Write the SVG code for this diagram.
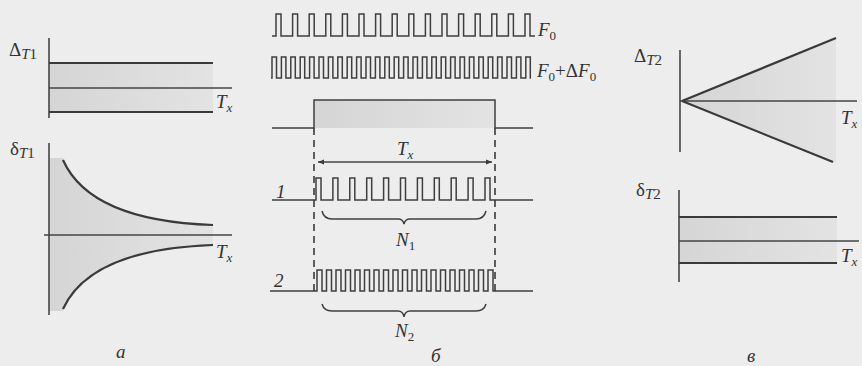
<svg xmlns="http://www.w3.org/2000/svg" width="862" height="366" viewBox="0 0 862 366">
<defs>
<linearGradient id="shadeH" x1="0" y1="0" x2="1" y2="0">
<stop offset="0" stop-color="#d5d5d5"/>
<stop offset="1" stop-color="#e3e3e3"/>
</linearGradient>
<marker id="ah" viewBox="0 0 10 10" refX="10" refY="5" markerWidth="9" markerHeight="6" markerUnits="userSpaceOnUse" orient="auto-start-reverse">
<path d="M0,1 L10,5 L0,9 Z" fill="#3a3a3a"/>
</marker>
<style>
.ln{fill:none;stroke:#3a3a3a;stroke-width:2.2;stroke-linecap:butt}
.ax{fill:none;stroke:#444;stroke-width:1.6}
.th{fill:none;stroke:#444;stroke-width:1.3}
.pl{fill:none;stroke:#3f3f3f;stroke-width:1.5;stroke-linejoin:miter}
.dash{fill:none;stroke:#3a3a3a;stroke-width:1.6;stroke-dasharray:7 5}
.sh{fill:url(#shadeH);stroke:none}
text{font-family:"Liberation Serif","Times New Roman",serif;fill:#333}
.it{font-style:italic;font-size:19px}
.gr{font-size:19px}
.sub{font-size:13px}
.gsub{font-size:15px}
</style>
</defs>
<rect x="0" y="0" width="862" height="366" fill="#ededed"/>

<g id="panel-a-top">
<rect class="sh" x="49" y="63" width="164" height="49"/>
<line class="ax" x1="49" y1="38" x2="49" y2="118"/>
<line class="ln" x1="49" y1="63" x2="213" y2="63"/>
<line class="th" x1="49" y1="88" x2="232" y2="88"/>
<line class="ln" x1="49" y1="112" x2="213" y2="112"/>
<text x="9" y="56" class="gr">Δ<tspan class="gsub" font-style="italic" dy="3">T</tspan><tspan class="gsub">1</tspan></text>
<text x="216" y="108" class="it">T<tspan class="sub" dy="4">x</tspan></text>
</g>

<g id="panel-a-bottom">
<path class="sh" d="M49,158 L63,158 C80,198 125,222 213,225 L213,235 L49,235 Z"/>
<path class="sh" d="M49,311 L63,311 C80,272 125,248 213,245 L213,235 L49,235 Z"/>
<line class="ax" x1="49" y1="143" x2="49" y2="315"/>
<line class="th" x1="44" y1="235" x2="232" y2="235"/>
<path class="ln" d="M63,160 C80,198 125,222 213,225"/>
<path class="ln" d="M63,309 C80,272 125,248 213,245"/>
<text x="10" y="155" class="gr">δ<tspan class="gsub" font-style="italic" dy="3">T</tspan><tspan class="gsub">1</tspan></text>
<text x="216" y="258" class="it">T<tspan class="sub" dy="4">x</tspan></text>
<text x="116" y="358" class="it">а</text>
</g>

<g id="signal-F0">
<path class="pl" d="M272,36 H276 v-22h5v22h11.6 v-22h5v22h11.6 v-22h5v22h11.6 v-22h5v22h11.6 v-22h5v22h11.6 v-22h5v22h11.6 v-22h5v22h11.6 v-22h5v22h11.6 v-22h5v22h11.6 v-22h5v22h11.6 v-22h5v22h11.6 v-22h5v22h11.6 v-22h5v22h11.6 v-22h5v22h11.6 v-22h5v22h11.6 v-22h5v22 H535"/>
<text x="538" y="36" class="it">F<tspan class="sub" font-style="normal" dy="4">0</tspan></text>
</g>

<g id="signal-F0dF0">
<path class="pl" d="M271,78 H272 v-21h4.5v21h4.9 v-21h4.5v21h4.9 v-21h4.5v21h4.9 v-21h4.5v21h4.9 v-21h4.5v21h4.9 v-21h4.5v21h4.9 v-21h4.5v21h4.9 v-21h4.5v21h4.9 v-21h4.5v21h4.9 v-21h4.5v21h4.9 v-21h4.5v21h4.9 v-21h4.5v21h4.9 v-21h4.5v21h4.9 v-21h4.5v21h4.9 v-21h4.5v21h4.9 v-21h4.5v21h4.9 v-21h4.5v21h4.9 v-21h4.5v21h4.9 v-21h4.5v21h4.9 v-21h4.5v21h4.9 v-21h4.5v21h4.9 v-21h4.5v21h4.9 v-21h4.5v21h4.9 v-21h4.5v21h4.9 v-21h4.5v21h4.9 v-21h4.5v21h4.9 v-21h4.5v21h4.9 v-21h4.5v21 H531"/>
<text x="537" y="77" class="it">F<tspan class="sub" font-style="normal" dy="4">0</tspan><tspan font-style="normal" dy="-4">+Δ</tspan>F<tspan class="sub" font-style="normal" dy="4">0</tspan></text>
</g>

<g id="signal-gate">
<rect class="sh" x="314" y="100" width="181" height="28"/>
<path class="pl" d="M272,128 H314 V100 H495 V128 H533"/>
</g>

<g id="signal-1">
<path class="pl" d="M272,200 H316 v-22h5v22h11.9 v-22h5v22h11.9 v-22h5v22h11.9 v-22h5v22h11.9 v-22h5v22h11.9 v-22h5v22h11.9 v-22h5v22h11.9 v-22h5v22h11.9 v-22h5v22h11.9 v-22h5v22h11.9 v-22h5v22 H533"/>
<text x="276" y="198" class="it">1</text>
<path class="pl" d="M322,211 Q324,219 332,219 H398 Q403,219 404,224 Q405,219 410,219 H476 Q484,219 486,211"/>
<text x="396" y="246" class="it">N<tspan class="sub" font-style="normal" dy="4">1</tspan></text>
</g>

<g id="signal-2">
<path class="pl" d="M270,291 H317 v-21h5v21h4.5 v-21h5v21h4.5 v-21h5v21h4.5 v-21h5v21h4.5 v-21h5v21h4.5 v-21h5v21h4.5 v-21h5v21h4.5 v-21h5v21h4.5 v-21h5v21h4.5 v-21h5v21h4.5 v-21h5v21h4.5 v-21h5v21h4.5 v-21h5v21h4.5 v-21h5v21h4.5 v-21h5v21h4.5 v-21h5v21h4.5 v-21h5v21h4.5 v-21h5v21h4.5 v-21h5v21 H533"/>
<text x="274" y="287" class="it">2</text>
<path class="pl" d="M322,304 Q324,311 332,311 H398 Q403,311 404,317 Q405,311 410,311 H476 Q484,311 486,304"/>
<text x="395" y="337" class="it">N<tspan class="sub" font-style="normal" dy="4">2</tspan></text>
<text x="431" y="362" class="it">б</text>
</g>

<g id="connectors">
<line class="dash" x1="314" y1="128" x2="314" y2="293"/>
<line class="dash" x1="495" y1="128" x2="495" y2="293"/>
<line class="th" x1="318" y1="162" x2="492" y2="162" marker-start="url(#ah)" marker-end="url(#ah)"/>
<text x="397" y="155" class="it">T<tspan class="sub" dy="4">x</tspan></text>
</g>

<g id="panel-v-top">
<polygon class="sh" points="682,101 836,38 836,163"/>
<line class="ax" x1="680" y1="50" x2="680" y2="152"/>
<line class="th" x1="680" y1="101" x2="857" y2="101"/>
<line class="ln" x1="682" y1="101" x2="836" y2="38"/>
<line class="ln" x1="682" y1="101" x2="833" y2="162"/>
<text x="634" y="62" class="gr">Δ<tspan class="gsub" font-style="italic" dy="3">T</tspan><tspan class="gsub">2</tspan></text>
<text x="841" y="124" class="it">T<tspan class="sub" dy="4">x</tspan></text>
</g>

<g id="panel-v-bottom">
<rect class="sh" x="679" y="217" width="158" height="46"/>
<line class="ax" x1="679" y1="190" x2="679" y2="282"/>
<line class="ln" x1="679" y1="217" x2="837" y2="217"/>
<line class="th" x1="679" y1="241" x2="859" y2="241"/>
<line class="ln" x1="679" y1="263" x2="837" y2="263"/>
<text x="636" y="196" class="gr">δ<tspan class="gsub" font-style="italic" dy="3">T</tspan><tspan class="gsub">2</tspan></text>
<text x="841" y="262" class="it">T<tspan class="sub" dy="4">x</tspan></text>
<text x="747" y="362" class="it">в</text>
</g>
</svg>
